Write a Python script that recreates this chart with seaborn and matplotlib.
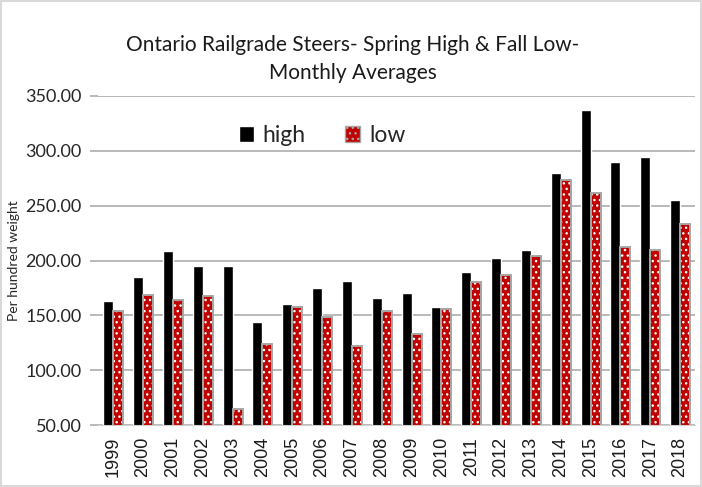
import numpy as np
import pandas as pd
import matplotlib
matplotlib.use("Agg")
import matplotlib.pyplot as plt
import seaborn as sns
from matplotlib.patches import Patch, Rectangle

years = ['1999', '2000', '2001', '2002', '2003', '2004', '2005', '2006', '2007', '2008',
         '2009', '2010', '2011', '2012', '2013', '2014', '2015', '2016', '2017', '2018']
high = [163, 185, 209, 195, 195, 144, 160, 175, 181, 166,
        170, 158, 190, 202, 210, 280, 337, 290, 294, 255]
low = [154, 169, 164, 168, 65, 124, 158, 149, 122, 154,
       133, 156, 180, 187, 204, 273, 262, 212, 210, 233]
y_ticks = [50, 100, 150, 200, 250, 300, 350]

df = pd.DataFrame({'year': years * 2,
                   'price': high + low,
                   'series': ['high'] * len(years) + ['low'] * len(years)})

sns.set_style("white")
plt.rcParams['font.family'] = ['Lato', 'DejaVu Sans']
plt.rcParams['hatch.color'] = 'white'
plt.rcParams['hatch.linewidth'] = 1.0

red = '#c00000'
fig = plt.figure(figsize=(7.02, 4.87), dpi=100)
ax = fig.add_axes([0.14, 0.127, 0.85, 0.676])

sns.barplot(data=df, x='year', y='price', hue='series',
            palette={'high': 'black', 'low': red},
            width=0.67, gap=0, saturation=1, legend=False, ax=ax)

# low bars: dotted red with a grey outline
n = len(years)
for p in ax.patches[n:2 * n]:
    p.set_hatch('...')
    p.set_edgecolor('white')
    p.set_linewidth(0)
    ax.add_patch(Rectangle(p.get_xy(), p.get_width(), p.get_height(),
                           fill=False, edgecolor='#a6a6a6', linewidth=1.4, zorder=p.get_zorder() + 0.1))

ax.set_ylim(50, 350)
ax.set_xlim(-0.5, n - 0.5)
ax.set_yticks(y_ticks)
ax.set_yticklabels([f'{v:.2f}' for v in y_ticks], fontsize=13, color='#262626')
ax.yaxis.grid(True, color='#a6a6a6', linewidth=1.1)
ax.set_axisbelow(True)
ax.tick_params(axis='y', left=True, length=6, width=1.1, color='#a6a6a6', pad=6)
ax.tick_params(axis='x', bottom=False, pad=5)
plt.setp(ax.get_xticklabels(), rotation=90, fontsize=13, family='Liberation Sans', color='#1a1a1a')

for s in ['top', 'right', 'left']:
    ax.spines[s].set_visible(False)
ax.spines['bottom'].set_color('#d0d0d0')

ax.set_xlabel('')
ax.set_ylabel('Per hundred weight', fontsize=10, labelpad=4)

handles = [Patch(facecolor='black', label='high'),
           Patch(facecolor=red, edgecolor='#a6a6a6', hatch='...', linewidth=1, label='low')]
ax.legend(handles=handles, ncol=2, frameon=False, fontsize=16.5,
          loc='center', bbox_to_anchor=(0.375, 0.88),
          handlelength=0.65, handleheight=0.75, handletextpad=0.4, columnspacing=1.7)

fig.text(0.503, 0.878, 'Ontario Railgrade Steers- Spring High & Fall Low-\nMonthly Averages',
         ha='center', va='center', fontsize=15, linespacing=1.5, color='#1a1a1a')

fig.patches.append(Rectangle((0.002, 0.002), 0.996, 0.996, transform=fig.transFigure,
                             fill=False, edgecolor='#d9d9d9', linewidth=1.5))

fig.savefig('out.png', dpi=100)
